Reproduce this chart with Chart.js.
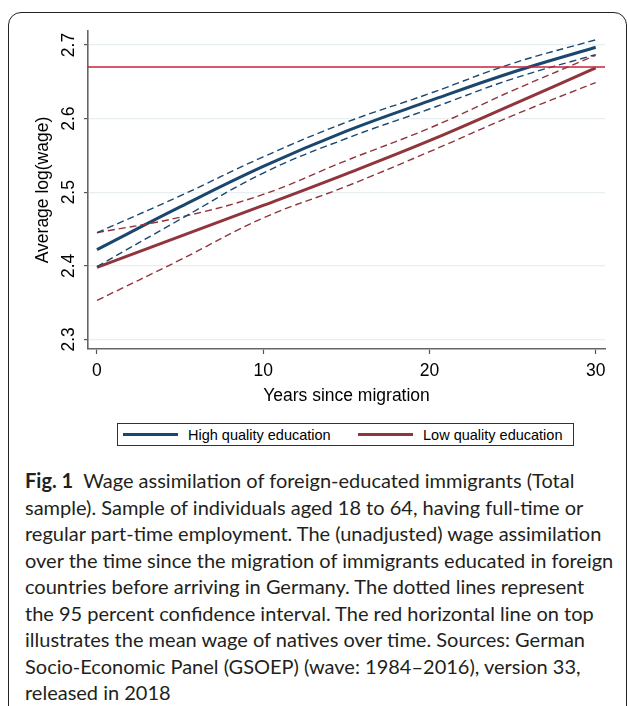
<!DOCTYPE html>
<html>
<head>
<meta charset="utf-8">
<script src="https://cdn.jsdelivr.net/npm/chart.js@4.4.1/dist/chart.umd.min.js"></script>
<style>
html,body{margin:0;padding:0;background:#fff;width:627px;height:706px;overflow:hidden;}
#frame{position:absolute;left:8px;top:12px;width:619px;height:760px;box-sizing:border-box;border:1.5px solid #222;border-radius:13px;}
#wrap{position:absolute;left:0;top:0;width:627px;height:420px;}
#legend{position:absolute;left:117px;top:423px;width:457px;height:23px;box-sizing:border-box;border:1px solid #333;font-family:'Liberation Sans',Arial,sans-serif;font-size:14.5px;color:#000;}
.item{position:absolute;top:0;height:21px;display:flex;align-items:center;white-space:nowrap;}
.swatch{display:inline-block;width:55px;height:3px;margin-right:10px;}
#caption{position:absolute;left:25px;top:467px;font-family:Lato,'Liberation Sans',sans-serif;font-size:20px;line-height:26.5px;color:#231f20;white-space:nowrap;}
</style>
</head>
<body>
<div id="frame"></div>
<div id="wrap"><canvas id="c" width="627" height="420"></canvas></div>
<div id="legend"></div>
<div id="caption"><b>Fig. 1</b>&nbsp;&nbsp;Wage assimilation of foreign-educated immigrants (Total<br>sample). Sample of individuals aged 18 to 64, having full-time or<br>regular part-time employment. The (unadjusted) wage assimilation<br>over the time since the migration of immigrants educated in foreign<br>countries before arriving in Germany. The dotted lines represent<br>the 95 percent confidence interval. The red horizontal line on top<br>illustrates the mean wage of natives over time. Sources: German<br>Socio-Economic Panel (GSOEP) (wave: 1984–2016), version 33,<br>released in 2018</div>
<script>
// ---- data ----
const years = [0, 5, 10, 15, 20, 25, 30];
const highMean  = [2.422, 2.480, 2.535, 2.583, 2.624, 2.663, 2.697];
const highUpper = [2.445, 2.495, 2.548, 2.595, 2.634, 2.675, 2.707];
const highLower = [2.399, 2.463, 2.526, 2.573, 2.613, 2.654, 2.687];
const lowMean   = [2.398, 2.440, 2.482, 2.525, 2.570, 2.619, 2.669];
const lowUpper  = [2.445, 2.466, 2.497, 2.543, 2.587, 2.638, 2.686];
const lowLower  = [2.353, 2.408, 2.465, 2.508, 2.555, 2.604, 2.649];
const nativeMean = 2.67;
const xTicks = [0, 10, 20, 30];
const yTicks = [2.3, 2.4, 2.5, 2.6, 2.7];
const seriesLabels = ['High quality education', 'Low quality education'];
const xTitle = 'Years since migration';
const yTitle = 'Average log(wage)';

// ---- styling ----
const NAVY = '#1a476f', MAROON = '#90353b', NATIVE = '#c8213c';
const FONT = "'Liberation Sans', Arial, sans-serif";
const xMin = -0.54, xMax = 30.56, yMin = 2.287, yMax = 2.719;

const pts = arr => years.map((x, i) => ({x: x, y: arr[i]}));
const mainLine = (label, arr, color) => ({label, data: pts(arr), borderColor: color, borderWidth: 3, pointRadius: 0, tension: 0.4, fill: false});
const ciLine = (label, arr, color) => ({label, data: pts(arr), borderColor: color, borderWidth: 1.4, borderDash: [7, 4], pointRadius: 0, tension: 0.4, fill: false});

const datasets = [
  {label: 'Natives', data: [{x: xMin, y: nativeMean}, {x: xMax, y: nativeMean}], borderColor: NATIVE, borderWidth: 1.5, pointRadius: 0, fill: false},
  ciLine('High upper', highUpper, NAVY),
  ciLine('High lower', highLower, NAVY),
  ciLine('Low upper', lowUpper, MAROON),
  ciLine('Low lower', lowLower, MAROON),
  mainLine(seriesLabels[0], highMean, NAVY),
  mainLine(seriesLabels[1], lowMean, MAROON)
];

new Chart(document.getElementById('c'), {
  type: 'line',
  data: {datasets},
  options: {
    responsive: false,
    animation: false,
    layout: {padding: {left: 0, right: 22, top: 31, bottom: 0}},
    plugins: {legend: {display: false}, tooltip: {enabled: false}},
    scales: {
      x: {
        type: 'linear', min: xMin, max: xMax,
        afterBuildTicks: s => { s.ticks = xTicks.map(v => ({value: v})); },
        afterFit: s => { s.height = 71; },
        grid: {drawOnChartArea: false, drawTicks: true, tickLength: 5, tickColor: '#555', tickWidth: 1.2},
        border: {display: true, color: '#666', width: 1.6},
        ticks: {color: '#000', font: {family: FONT, size: 17.5}, padding: 7, maxRotation: 0, autoSkip: false, callback: v => String(v)},
        title: {display: true, text: xTitle, color: '#000', font: {family: FONT, size: 17.5}, padding: {top: 0, bottom: 13.5}}
      },
      y: {
        type: 'linear', min: yMin, max: yMax,
        afterBuildTicks: s => { s.ticks = yTicks.map(v => ({value: v})); },
        afterFit: s => { s.width = 88; },
        grid: {color: '#e8eff0', lineWidth: 1.2, drawTicks: true, tickLength: 4, tickColor: '#555', tickWidth: 1.2},
        border: {display: true, color: '#666', width: 1.6},
        ticks: {color: '#000', font: {family: FONT, size: 17.5}, padding: 3, minRotation: 90, maxRotation: 90, crossAlign: 'center', autoSkip: false, callback: v => v.toFixed(1)},
        title: {display: true, text: yTitle, color: '#000', font: {family: FONT, size: 17.5}, padding: {top: 32.5, bottom: 0}}
      }
    }
  }
});

// ---- legend (from the series labels/colours) ----
const legend = document.getElementById('legend');
[[seriesLabels[0], NAVY, 5], [seriesLabels[1], MAROON, 240]].forEach(([t, c, l]) => {
  const it = document.createElement('div');
  it.className = 'item';
  it.style.left = l + 'px';
  it.innerHTML = '<span class="swatch" style="background:' + c + '"></span><span>' + t + '</span>';
  legend.appendChild(it);
});
</script>
</body>
</html>
